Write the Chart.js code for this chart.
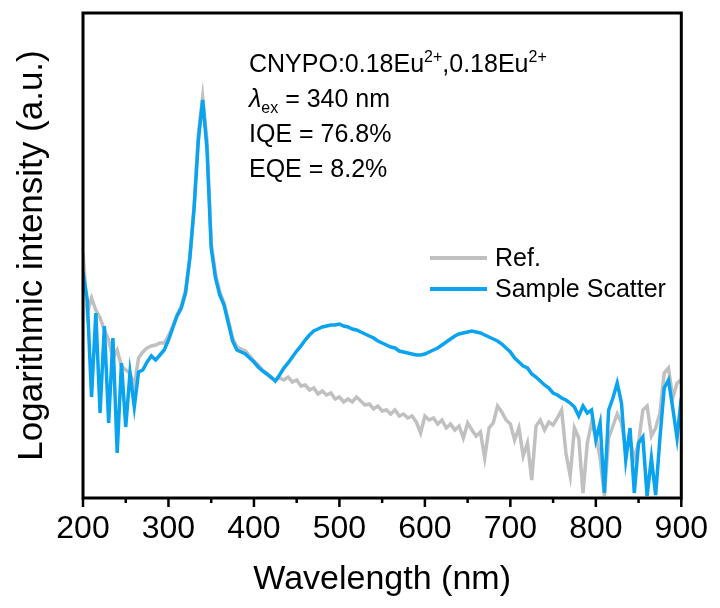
<!DOCTYPE html>
<html>
<head>
<meta charset="utf-8">
<script src="https://cdn.jsdelivr.net/npm/chart.js@4.4.1/dist/chart.umd.min.js"></script>
<style>
  html, body { margin: 0; padding: 0; background: #fff; }
  #wrap { width: 720px; height: 608px; }
</style>
</head>
<body>
<div id="wrap"><canvas id="spectrumChart" width="720" height="608"></canvas></div>
<script>
// Wavelength grid (nm)
const wavelengths = [
  200, 205, 210, 215, 220, 225, 230, 235, 240, 245,
  250, 255, 260, 265, 270, 275, 280, 285, 290, 295,
  300, 305, 310, 315, 320, 325, 330, 335, 340, 345,
  350, 355, 360, 365, 370, 375, 380, 385, 390, 395,
  400, 405, 410, 415, 420, 425, 430, 435, 440, 445,
  450, 455, 460, 465, 470, 475, 480, 485, 490, 495,
  500, 505, 510, 515, 520, 525, 530, 535, 540, 545,
  550, 555, 560, 565, 570, 575, 580, 585, 590, 595,
  600, 605, 610, 615, 620, 625, 630, 635, 640, 645,
  650, 655, 660, 665, 670, 675, 680, 685, 690, 695,
  700, 705, 710, 715, 720, 725, 730, 735, 740, 745,
  750, 755, 760, 765, 770, 775, 780, 785, 790, 795,
  800, 805, 810, 815, 820, 825, 830, 835, 840, 845,
  850, 855, 860, 865, 870, 875, 880, 885, 890, 895,
  900
];

// Log intensity, arbitrary units
const refIntensity = [
  245, 185, 200, 188, 180, 168, 158, 140, 148, 132,
  128, 125, 112, 140, 146, 150, 152, 153, 155, 155,
  162, 172, 183, 192, 208, 240, 292, 365, 401, 358,
  255, 224, 206, 195, 178, 160, 151, 149, 147, 142,
  137, 133, 128, 125, 120, 118, 120, 118, 121, 116,
  118, 112, 113, 108, 110, 104, 107, 103, 105, 99,
  101, 96, 99, 96, 101, 97, 93, 94, 89, 92,
  87, 88, 84, 88, 82, 84, 80, 82, 76, 65,
  82, 78, 80, 74, 78, 70, 74, 68, 72, 60,
  75, 68, 62, 66, 40, 70, 75, 92, 86, 78,
  74, 58, 70, 42, 55, 18, 72, 78, 68, 76,
  73, 80, 88, 45, 22, 70, 60, 5, 55, 75,
  62, 40, 2, 60, 72, 84, 75, 48, 58, 40,
  55, 88, 92, 62, 70, 85, 125, 130, 100, 115,
  118
];

const sampleIntensity = [
  226, 198, 101, 185, 85, 172, 75, 160, 45, 135,
  71, 125, 91, 126, 128, 136, 142, 138, 143, 148,
  158, 170, 182, 190, 205, 240, 290, 358, 398, 350,
  250, 220, 203, 193, 175, 157, 148, 146, 144, 140,
  136, 131, 127, 124, 121, 117, 123, 130, 135, 141,
  147, 152, 158, 163, 167, 169, 171, 172, 173, 173,
  174, 172, 171, 169, 168, 166, 164, 162, 160, 157,
  155, 153, 151, 150, 147, 146, 145, 144, 143, 143,
  144, 146, 148, 150, 153, 156, 159, 162, 164, 165,
  166, 167, 166, 165, 163, 161, 159, 157, 154, 150,
  146, 140, 136, 132, 130, 124, 121, 117, 113, 110,
  105, 103, 100, 98, 95, 91, 82, 92, 85, 88,
  58, 75, 5, 88, 100, 115, 95, 38, 70, 5,
  55, 61, 2, 40, 3, 60, 110, 118, 90, 60,
  100
];

const seriesNames = ['Ref.', 'Sample Scatter'];
const majorTicks = [200, 300, 400, 500, 600, 700, 800, 900];
const minorTicks = [250, 350, 450, 550, 650, 750, 850];

const FONT = '"Liberation Sans", Arial, Helvetica, sans-serif';

// annotation lines: [text, style]
const noteLines = [
  [['CNYPO:0.18Eu', 'n'], ['2+', 'sup'], [',0.18Eu', 'n'], ['2+', 'sup']],
  [['\u03BB', 'it'], ['ex', 'sub'], [' = 340 nm', 'n']],
  [['IQE = 76.8%', 'n']],
  [['EQE = 8.2%', 'n']]
];

const decorations = {
  id: 'decorations',
  afterDraw(chart) {
    const { ctx, chartArea: a } = chart;
    const x = chart.scales.x;
    ctx.save();

    // frame
    ctx.strokeStyle = '#000';
    ctx.lineWidth = 3;
    ctx.strokeRect(a.left, a.top, a.right - a.left, a.bottom - a.top);

    // ticks, outward
    ctx.lineWidth = 2.5;
    ctx.beginPath();
    majorTicks.forEach(v => {
      const px = x.getPixelForValue(v);
      ctx.moveTo(px, a.bottom);
      ctx.lineTo(px, a.bottom + 9);
    });
    minorTicks.forEach(v => {
      const px = x.getPixelForValue(v);
      ctx.moveTo(px, a.bottom);
      ctx.lineTo(px, a.bottom + 5);
    });
    ctx.stroke();

    // legend
    const ds = chart.data.datasets;
    ctx.textBaseline = 'middle';
    ctx.textAlign = 'left';
    ctx.font = '25px ' + FONT;
    [258, 289].forEach((y, i) => {
      ctx.strokeStyle = ds[i].borderColor;
      ctx.lineWidth = 4;
      ctx.beginPath();
      ctx.moveTo(430, y);
      ctx.lineTo(487, y);
      ctx.stroke();
      ctx.fillStyle = '#000';
      ctx.fillText(ds[i].label, 495, y + 1);
    });

    // annotation text
    ctx.textBaseline = 'alphabetic';
    ctx.fillStyle = '#000';
    const baselines = [72, 107, 142, 177];
    noteLines.forEach((parts, li) => {
      let cx = 249;
      const by = baselines[li];
      parts.forEach(([t, s]) => {
        let dy = 0;
        if (s === 'sup') { ctx.font = '16px ' + FONT; dy = -10; }
        else if (s === 'sub') { ctx.font = '16px ' + FONT; dy = 6; }
        else if (s === 'it') { ctx.font = 'italic 25px ' + FONT; }
        else { ctx.font = '25px ' + FONT; }
        ctx.fillText(t, cx, by + dy);
        cx += ctx.measureText(t).width;
      });
    });

    ctx.restore();
  }
};

const ctx = document.getElementById('spectrumChart').getContext('2d');
new Chart(ctx, {
  type: 'line',
  data: {
    datasets: [{
      label: seriesNames[0],
      data: wavelengths.map((w, i) => ({ x: w, y: refIntensity[i] })),
      borderColor: '#c0c0c0',
      borderWidth: 3.5,
      pointRadius: 0,
      tension: 0,
      order: 1
    }, {
      label: seriesNames[1],
      data: wavelengths.map((w, i) => ({ x: w, y: sampleIntensity[i] })),
      borderColor: '#0aa3f0',
      borderWidth: 3.5,
      pointRadius: 0,
      tension: 0,
      order: 0
    }]
  },
  options: {
    responsive: false,
    animation: false,
    layout: { padding: { top: 13, right: 33, left: 0, bottom: 0 } },
    plugins: {
      legend: { display: false },
      tooltip: { enabled: false }
    },
    scales: {
      x: {
        type: 'linear',
        min: 200,
        max: 900,
        afterBuildTicks: (s) => { s.ticks = majorTicks.map(v => ({ value: v })); },
        afterFit: (s) => { s.height = 110; },
        grid: { display: false, drawTicks: false },
        border: { display: false },
        ticks: {
          color: '#000',
          padding: 12,
          font: { family: FONT, size: 32 },
          maxRotation: 0
        },
        title: {
          display: true,
          text: 'Wavelength (nm)',
          color: '#000',
          font: { family: FONT, size: 34 },
          padding: { bottom: 8 }
        }
      },
      y: {
        min: 0,
        max: 485,
        afterFit: (s) => { s.width = 83; },
        grid: { display: false, drawTicks: false },
        border: { display: false },
        ticks: { display: false },
        title: {
          display: true,
          text: 'Logarithmic intensity (a.u.)',
          color: '#000',
          font: { family: FONT, size: 35 },
          padding: { top: 11 }
        }
      }
    }
  },
  plugins: [decorations]
});
</script>
</body>
</html>
